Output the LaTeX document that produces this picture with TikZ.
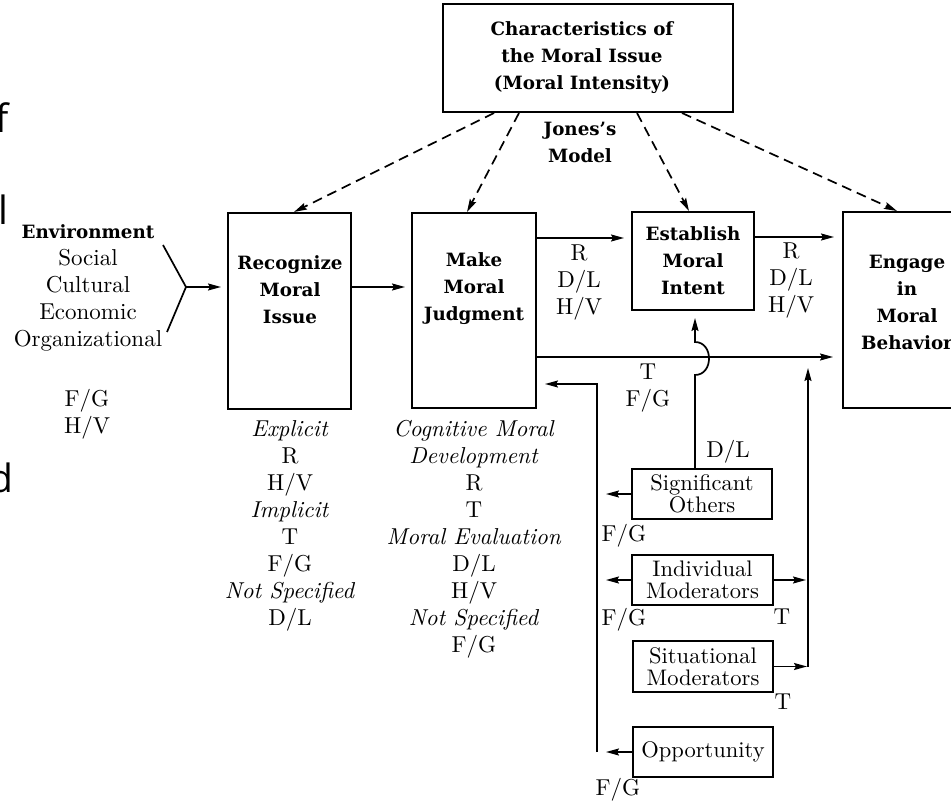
\documentclass[tikz,border=0pt]{standalone}
\usepackage{fontspec}
\setmainfont{lmroman10-regular.otf}[ItalicFont=lmroman10-italic.otf,BoldFont=lmroman10-bold.otf]
\newfontfamily\slab{DejaVu Serif}
\newfontfamily\uisans{Open Sans}
\usetikzlibrary{arrows.meta}

\begin{document}
\begin{tikzpicture}[x=1pt,y=-1pt,
  box/.style={draw,line width=2pt,inner sep=0pt},
  heading/.style={font=\slab\bfseries\fontsize{18.3}{27}\selectfont,align=center,inner sep=0pt},
  note/.style={font=\fontsize{23}{27}\selectfont,align=center,inner sep=0pt},
  tight/.style={font=\fontsize{22.5}{22}\selectfont,align=center},
  frag/.style={font=\uisans\fontsize{39}{39}\selectfont,anchor=base west,inner sep=0pt},
  plain/.style={line width=1.7pt},
  link/.style={line width=1.7pt,-{Stealth[length=13pt,width=7pt,inset=2pt]}},
  influence/.style={link,dash pattern=on 10pt off 6pt}]

\useasboundingbox (0,0) rectangle (951,802);
\clip (0,0) rectangle (951,802);

% fragments of a neighbouring text column
\node[frag] (fragA) at (-4.5,133) {f};
\node[frag] (fragB) at (-2,225) {l};
\node[frag] (fragC) at (-11,492) {d};

% main boxes
\node[box,minimum width=290pt,minimum height=108pt] (top) at (588,58) {};
\node[heading] (topText) at (582,58) {Characteristics of\\the Moral Issue\\(Moral Intensity)};
\node[heading] (jones) at (580,142) {Jones’s\\Model};

\node[box,minimum width=123pt,minimum height=196pt] (rec) at (289.5,311) {};
\node[heading] (recText) at (290,290) {Recognize\\Moral\\Issue};
\node[box,minimum width=124pt,minimum height=195pt] (mj) at (474,310.5) {};
\node[heading] (mjText) at (474,289) {Make\\Moral\\Judgment};
\node[box,minimum width=122pt,minimum height=98pt] (est) at (693,261) {};
\node[heading] (estText) at (693,261) {Establish\\Moral\\Intent};
\node[box,minimum width=128pt,minimum height=196pt] (eng) at (907,310) {};
\node[heading] (engText) at (907,302) {Engage\\in\\Moral\\Behavior};

% moderator boxes
\node[box,tight,minimum width=140pt,minimum height=50pt] (sig) at (702,494) {Significant\\Others};
\node[box,tight,minimum width=141pt,minimum height=50pt] (ind) at (702.5,580) {Individual\\Moderators};
\node[box,tight,minimum width=140pt,minimum height=51pt] (sit) at (703,666.5) {Situational\\Moderators};
\node[box,tight,minimum width=140pt,minimum height=50pt] (opp) at (703,752) {Opportunity};

% environment
\node[note] (env) at (88,287.5) {{\slab\bfseries\fontsize{18.3}{27}\selectfont Environment}\\Social\\Cultural\\Economic\\Organizational};
\node[note] (envCodes) at (87,414) {F/G\\H/V};

% code lists
\node[note] (recCodes) at (290,526) {\textit{Explicit}\\R\\H/V\\\textit{Implicit}\\T\\F/G\\\textit{Not Specified}\\D/L};
\node[note] (mjCodes) at (474,539) {\textit{Cognitive Moral}\\\textit{Development}\\R\\T\\\textit{Moral Evaluation}\\D/L\\H/V\\\textit{Not Specified}\\F/G};
\node[note] (codesA) at (579,283) {R\\D/L\\H/V};
\node[note] (codesB) at (791,281) {R\\D/L\\H/V};
\node[note] (codesC) at (648,388) {T\\F/G};
\node[note] (codeSig) at (728,452) {D/L};
\node[note] (codeSigB) at (624,536) {F/G};
\node[note] (codeIndB) at (624,620) {F/G};
\node[note] (codeIndT) at (782,617) {T};
\node[note] (codeSitT) at (783,702) {T};
\node[note] (codeOpp) at (618,790) {F/G};

% row and column coordinates
\coordinate (fork) at (186,287);
\coordinate (rowA) at (0,238);
\coordinate (rowB) at (0,237);
\coordinate (rowC) at (0,357);
\coordinate (hopX) at (695,0);
\coordinate (fbBot) at (597,752);
\coordinate (fbTop) at (597,384);
\coordinate (rjTop) at (808,357);

% environment bracket
\draw[plain] (163,245) -- (fork) -- (167,332);
\draw[link,shorten >=6pt] (fork) -- (rec.west |- fork);

% main flow
\draw[link,shorten >=6pt] (rec.east |- fork) -- (mj.west |- fork);
\draw[link,shorten >=7pt] (mj.east |- rowA) -- (est.west |- rowA);
\draw[link,shorten >=8pt] (est.east |- rowB) -- (eng.west |- rowB);
\draw[link,shorten >=9pt] (mj.east |- rowC) -- (eng.west |- rowC);

% dashed influences of moral intensity
\draw[influence] ([xshift=52pt]top.south west) -- ([xshift=67pt]rec.north west);
\draw[influence] ([xshift=77pt]top.south west) -- ([xshift=56pt]mj.north west);
\draw[influence] ([xshift=195pt]top.south west) -- ([xshift=58pt]est.north west);
\draw[influence] ([xshift=240pt]top.south west) -- ([xshift=55pt]eng.north west);

% significant others to intent, hopping over the judgment line
\draw[link,shorten >=7pt] (sig.north -| hopX) -- (695,375)
  .. controls (713.7,375) and (713.7,342) .. (695,342) -- (est.south -| hopX);

% feedback bus into judgment
\draw[link,shorten >=8pt] (fbBot) -- (fbTop) -- (mj.east |- fbTop);
\draw[link,shorten >=9pt] (sig.west) -- (sig.west -| fbTop);
\draw[link,shorten >=9pt] (ind.west) -- (ind.west -| fbTop);
\draw[link,shorten >=9pt] (opp.west) -- (opp.west -| fbTop);

% moderators into behaviour
\draw[link,shorten >=11pt] (sit.east -| rjTop) -- (rjTop);
\draw[link,shorten >=2pt] (ind.east) -- (ind.east -| rjTop);
\draw[link,shorten >=1pt] (sit.east) -- (sit.east -| rjTop);
\end{tikzpicture}
\end{document}
